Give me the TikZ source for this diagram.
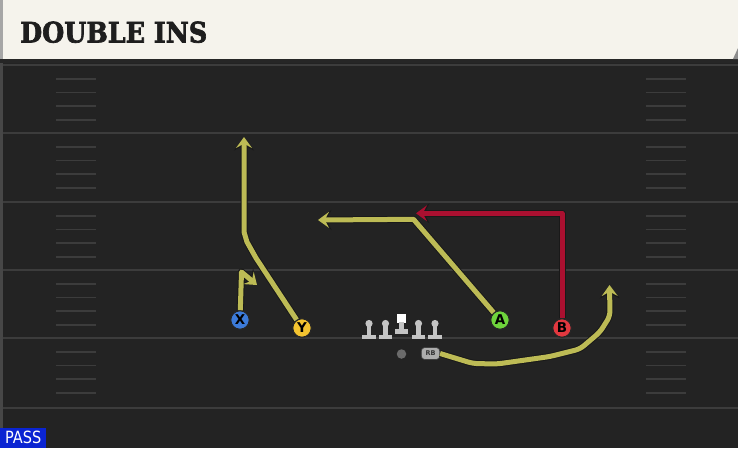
\documentclass[tikz,border=0pt]{standalone}
\usepackage{fontspec}
\setmainfont{DejaVu Sans}
\newfontfamily\titlefont{DejaVu Serif}[BoldFeatures={FakeBold=2.5}]
\newfontfamily\passfont{DejaVu Sans Condensed}
\usetikzlibrary{arrows.meta}
\definecolor{field}{HTML}{232323}
\definecolor{yard}{HTML}{3C3C3C}
\definecolor{hashc}{HTML}{3C3C3C}
\definecolor{header}{HTML}{F5F3EC}
\definecolor{routey}{HTML}{BDBB55}
\definecolor{router}{HTML}{AA1030}
\definecolor{xblue}{HTML}{3C7BDA}
\definecolor{yyel}{HTML}{F4C430}
\definecolor{agreen}{HTML}{6ED43C}
\definecolor{bred}{HTML}{E2383F}
\definecolor{lineman}{HTML}{C4C4C4}
\definecolor{passblue}{HTML}{0A24D2}
\definecolor{leftedge}{HTML}{474747}
\definecolor{titleink}{HTML}{1E1E1E}
\tikzset{
  yardline/.style={draw=yard, line width=2.2pt},
  hashmark/.style={draw=hashc, line width=1.8pt},
  player/.style={circle, draw=black!85, line width=1.1pt, minimum size=18.5pt, inner sep=0pt,
    font=\fontsize{13.5}{13.5}\selectfont\bfseries, text=black},
  routebase/.style={line width=5pt, line join=round,
    -{Stealth[length=11pt,width=16pt,inset=4.3pt]},
    preaction={draw=black!90, line width=7pt, line join=round,
      -{Stealth[length=13.5pt,width=20pt,inset=5.2pt]}}},
  routeY/.style={routebase, draw=routey},
  routeR/.style={routebase, draw=router},
}
\begin{document}
\begin{tikzpicture}[x=1pt,y=-1pt]
\useasboundingbox (0,0) rectangle (738,448);
% field
\fill[field] (0,0) rectangle (738,448);
\fill[leftedge] (0,0) rectangle (2.5,448);
\foreach \yy in {65,133,202,270,338,408}{
  \draw[yardline] (2.5,\yy) -- (738,\yy);
}
\foreach \yy in {65,133,202,270,338}{
  \foreach \k in {1,2,3,4}{
    \draw[hashmark] (56,{\yy+\k*13.7}) -- (96,{\yy+\k*13.7});
    \draw[hashmark] (646,{\yy+\k*13.7}) -- (686,{\yy+\k*13.7});
  }
}
% header
\fill[black!85] (0,58) rectangle (738,63);
\fill[header] (0,0) rectangle (738,59);
\fill[black!35] (0,0) rectangle (2.5,59);
\fill[black!45] (738,48) -- (738,59) -- (733,59) -- cycle;
\node[anchor=west, inner sep=0pt, text=titleink] (title) at (20,32.2)
  {\resizebox{187pt}{21pt}{\titlefont\bfseries DOUBLE INS}};
% linemen
\foreach \c in {369,385.5,418.5,435}{
  \fill[lineman] (\c,323.5) circle (3.6);
  \fill[lineman] (\c-2.3,325) rectangle (\c+2.3,335);
  \fill[lineman] (\c-6.6,334.5) rectangle (\c+6.6,339.3);
}
\fill[white] (397.3,313.8) rectangle (405.7,322.5);
\fill[lineman] (399.2,322) rectangle (403.8,329);
\fill[lineman] (394.9,328.5) rectangle (408.1,333.6);
% backfield
\node[circle, fill=black!58, minimum size=9.5pt, inner sep=0pt] (QB) at (401.5,354) {};
\node[rounded corners=3.5pt, fill=black!32, draw=black!75, line width=0.7pt,
  minimum width=18.5pt, minimum height=12pt, inner sep=0pt,
  font=\fontsize{6.5}{6.5}\selectfont\bfseries, text=black!80] (RB) at (430.5,353.5) {RB};
% players
\node[player, fill=xblue] (X) at (240,320) {X};
\node[player, fill=yyel] (Y) at (302,328) {Y};
\node[player, fill=agreen] (A) at (500,320) {A};
\node[player, fill=bred] (B) at (562,328) {B};
% route end points
\coordinate (xe) at (257,285);
\coordinate (ye) at (244,137);
\coordinate (ae) at (318,220);
\coordinate (be) at (416,213.3);
\coordinate (rbe) at (609.5,285);
% routes
\draw[routeR] (B) -- (562,213.3) -- (be);
\draw[routeY] (X) -- (241.5,272) -- (xe);
\draw[routeY] (Y) -- (256,258) -- (247,242) -- (244,232) -- (ye);
\draw[routeY] (A) -- (413.5,219.3) -- (ae);
\draw[routeY, rounded corners=5pt] (RB.east) -- (473,363.5) -- (497,364) -- (550,356.5) -- (580,349)
  -- (600,332) -- (610,316) -- (rbe);
% pass label
\node[fill=passblue, anchor=south west, minimum width=46pt, minimum height=20pt, inner sep=0pt,
  text=white] (pass) at (0,448) {\resizebox{36pt}{12.5pt}{\passfont PASS}};
\end{tikzpicture}
\end{document}
